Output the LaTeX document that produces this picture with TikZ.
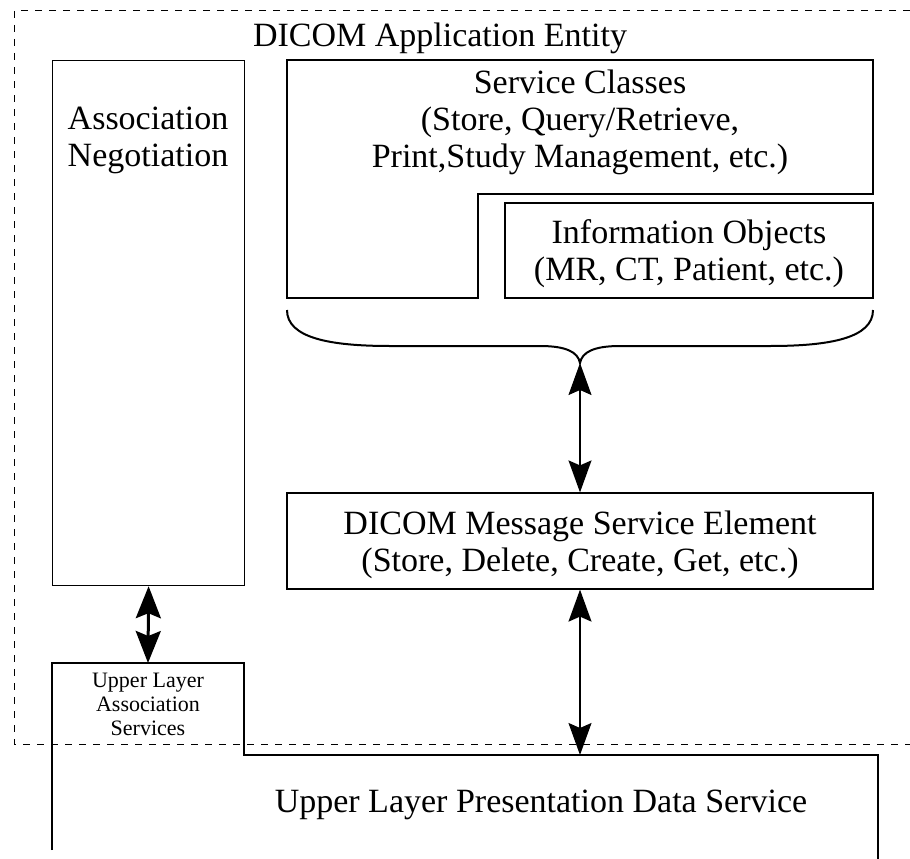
\documentclass[tikz,border=0pt]{standalone}
\usepackage{fontspec}
\setmainfont{Liberation Serif}
\usetikzlibrary{arrows.meta}
\begin{document}
\begin{tikzpicture}[x=1pt,y=-1pt,
  box/.style={draw, line width=1.2pt, inner sep=0pt},
  shape line/.style={draw, line width=1.2pt, line join=miter},
  big/.style={font=\fontsize{34}{37}\selectfont, align=center, inner sep=0pt},
  small/.style={font=\fontsize{22}{24}\selectfont, align=center, inner sep=0pt},
  dbl/.style={{Stealth[length=32pt,width=23pt,inset=5pt]}-{Stealth[length=32pt,width=23pt,inset=5pt]}, line width=1.6pt},
  dblthick/.style={{Stealth[length=32pt,width=25pt,inset=5pt]}-{Stealth[length=32pt,width=25pt,inset=5pt]}, line width=3pt},
  aeborder/.style={draw, line width=1pt, dash pattern=on 7pt off 7pt}]
\useasboundingbox (0,0) rectangle (910,859);
% application entity border
\draw[aeborder] (910,11) -- (14,11) -- (14,744) -- (910,744);
\node[big] (ae) at (440,38) {DICOM Application Entity};
% association negotiation
\node[box, minimum width=192pt, minimum height=525pt, anchor=north west] (assoc) at (52,60) {};
\node[big] (assoctext) at (148,140) {Association\\Negotiation};
% service classes (L-shape)
\draw[shape line] (287,60) -- (873,60) -- (873,194) -- (478,194) -- (478,298) -- (287,298) -- cycle;
\node[big] (sc) at (580,122) {Service Classes\\(Store, Query/Retrieve,\\Print,Study Management, etc.)};
% information objects
\node[box, minimum width=368pt, minimum height=95pt] (io) at (689,250.5) {};
\node[big] (iotext) at (689,254) {Information Objects\\(MR, CT, Patient, etc.)};
% brace
\coordinate (cusp) at (580,363);
\draw[line width=2pt] (287,310) .. controls (287,338) and (330,346) .. (390,346) -- (540,346)
  .. controls (566,346) and (578,352) .. (cusp)
  .. controls (582,352) and (594,346) .. (620,346) -- (770,346)
  .. controls (830,346) and (873,338) .. (873,310);
% DIMSE
\node[box, minimum width=586pt, minimum height=96pt] (dimse) at (580,541) {};
\node[big] (dimsetext) at (580,545) {DICOM Message Service Element\\(Store, Delete, Create, Get, etc.)};
% upper layer
\draw[shape line] (52,850) -- (52,663) -- (244,663) -- (244,755) -- (878,755) -- (878,859);
\draw[line width=2pt] (52,752) -- (52,850);
\coordinate (ulastop) at (148,663);
\coordinate (ulpdstop) at (580,755);
\node[small] (ulas) at (148,704) {Upper Layer\\Association\\Services};
\node[big] (ulpds) at (541,805) {Upper Layer Presentation Data Service};
% connectors
\draw[dblthick] (assoc.south) -- (ulastop);
\draw[dbl] (cusp) -- (dimse.north);
\draw[dbl] (dimse.south) -- (ulpdstop);
\end{tikzpicture}
\end{document}
